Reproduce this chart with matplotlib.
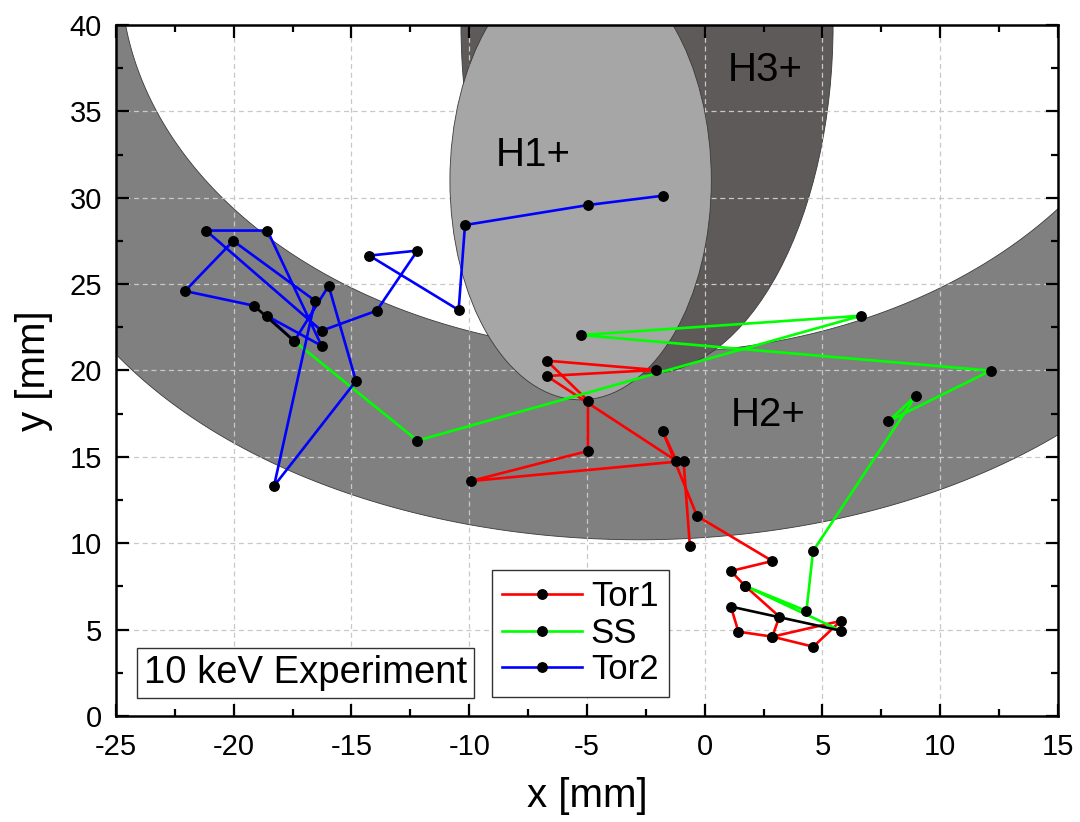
import numpy as np
import matplotlib
matplotlib.use("Agg")
import matplotlib.pyplot as plt
from matplotlib.patches import Ellipse

plt.rcParams['font.family'] = ['Liberation Sans', 'DejaVu Sans']
plt.rcParams['axes.unicode_minus'] = False

# Beam position traces (x, y in mm)
tor1_x = [-0.63, -0.90, -9.93, -4.96, -4.96, -6.71, -2.07, -6.71, -1.20, -1.79, -0.33,
          2.87, 1.11, 1.71, 3.17, 2.87, 5.77, 4.61, 2.87, 1.43, 1.11]
tor1_y = [9.84, 14.76, 13.60, 15.34, 18.25, 20.57, 20.03, 19.68, 14.76, 16.50, 11.58,
          8.97, 8.39, 7.53, 5.75, 4.59, 5.50, 4.01, 4.59, 4.88, 6.33]

ss_x = [5.77, 1.71, 4.32, 4.60, 8.97, 7.80, 12.14, -5.25, 6.65, -12.20, -17.43]
ss_y = [4.94, 7.53, 6.08, 9.55, 18.54, 17.06, 19.99, 22.05, 23.17, 15.94, 21.70]

tor2_x = [-19.14, -22.07, -20.02, -16.55, -18.29, -14.81, -15.97, -17.43, -18.58, -16.27,
          -18.57, -21.18, -16.27, -13.93, -12.20, -14.24, -10.45, -10.18, -4.94, -1.76]
tor2_y = [23.75, 24.60, 27.50, 24.04, 13.31, 19.39, 24.90, 21.70, 23.15, 21.43,
          28.10, 28.10, 22.30, 23.46, 26.94, 26.65, 23.50, 28.42, 29.58, 30.12]

# Transitions between consecutive runs
link1_x = [1.11, 5.77]
link1_y = [6.33, 4.94]
link2_x = [-17.43, -19.14]
link2_y = [21.70, 23.75]

fig = plt.figure(figsize=(10.8, 8.22), dpi=100)
ax = fig.add_axes([0.1074, 0.129, 0.8722, 0.8406])
ax.set_xlim(-25, 15)
ax.set_ylim(0, 40)

# Acceptance regions of the ion species
edge = dict(edgecolor='#3a3a3a', linewidth=0.6)

xs = np.linspace(-26, 16, 800)
inner_c, inner_r = (-2.5, 43.0), (22.3, 22.0)
outer_c, outer_r = (-2.8, 32.6), (26.0, 22.4)
u_in = (xs - inner_c[0]) / inner_r[0]
upper = inner_c[1] - inner_r[1] * np.sqrt(np.clip(1 - u_in ** 2, 0, 1))
upper = np.where(np.abs(u_in) >= 1, 60, upper)
u_out = np.clip((xs - outer_c[0]) / outer_r[0], -1, 1)
lower = outer_c[1] - outer_r[1] * np.sqrt(1 - u_out ** 2)
ax.fill_between(xs, lower, upper, facecolor='#808080', zorder=1, **edge)

h3 = Ellipse((-2.45, 40.0), 15.8, 40.4, facecolor='#5f5a5a', zorder=2, **edge)
ax.add_patch(h3)

h1 = Ellipse((-5.27, 31.0), 11.1, 25.4, facecolor='#a6a6a6', zorder=3, **edge)
ax.add_patch(h1)

ax.text(-7.3, 32.5, 'H1+', fontsize=29, ha='center', va='center', zorder=4)
ax.text(2.56, 37.4, 'H3+', fontsize=29, ha='center', va='center', zorder=4)
ax.text(2.69, 17.4, 'H2+', fontsize=29, ha='center', va='center', zorder=4)

ax.grid(True, color='#c8c8c8', linestyle=(0, (4, 3)), linewidth=0.9, zorder=3.5)
ax.set_axisbelow(False)

lw = 1.9
ms = 6.8
ax.plot(tor1_x, tor1_y, color='#ff0000', lw=lw, zorder=5)
ax.plot(ss_x, ss_y, color='#00ff00', lw=lw, zorder=5)
ax.plot(tor2_x, tor2_y, color='#0000ff', lw=lw, zorder=5)
ax.plot(link1_x, link1_y, color='black', lw=lw, zorder=5.5)
ax.plot(link2_x, link2_y, color='black', lw=lw, zorder=5.5)
for xx, yy in [(tor1_x, tor1_y), (ss_x, ss_y), (tor2_x, tor2_y)]:
    ax.plot(xx, yy, ls='none', marker='o', ms=ms, color='black', zorder=6)

# legend proxies
h_t1, = ax.plot([], [], color='#ff0000', lw=lw, marker='o', ms=ms, mfc='black', mec='black')
h_ss, = ax.plot([], [], color='#00ff00', lw=lw, marker='o', ms=ms, mfc='black', mec='black')
h_t2, = ax.plot([], [], color='#0000ff', lw=lw, marker='o', ms=ms, mfc='black', mec='black')
leg = ax.legend([h_t1, h_ss, h_t2], ['Tor1', 'SS', 'Tor2'], loc='lower left',
                bbox_to_anchor=(0.399, 0.028), fontsize=25, frameon=True, fancybox=False,
                edgecolor='#333333', framealpha=1, handlelength=2.3, handletextpad=0.25,
                labelspacing=0.1, borderpad=0.3, borderaxespad=0)
leg.get_frame().set_linewidth(1.0)
leg.set_zorder(10)

ax.text(0.03, 0.036, '10 keV Experiment', transform=ax.transAxes, fontsize=27.5,
        ha='left', va='bottom', zorder=10,
        bbox=dict(boxstyle='square,pad=0.18', facecolor='white', edgecolor='#333333', linewidth=1.0))

ax.set_xticks(np.arange(-25, 16, 5))
ax.set_yticks(np.arange(0, 41, 5))
ax.set_xticks(np.arange(-25, 16, 2.5), minor=True)
ax.set_yticks(np.arange(0, 41, 2.5), minor=True)
ax.tick_params(which='both', direction='in', top=True, right=True, width=1.6)
ax.tick_params(which='major', length=9, labelsize=21)
ax.tick_params(axis='x', which='major', pad=12)
ax.tick_params(axis='y', which='major', pad=10)
ax.tick_params(which='minor', length=5)
for s in ax.spines.values():
    s.set_linewidth(1.8)
    s.set_zorder(11)

ax.set_xlabel('x [mm]', fontsize=29, labelpad=12)
ax.set_ylabel('y [mm]', fontsize=29, labelpad=12)

fig.savefig('out.png', dpi=100)
